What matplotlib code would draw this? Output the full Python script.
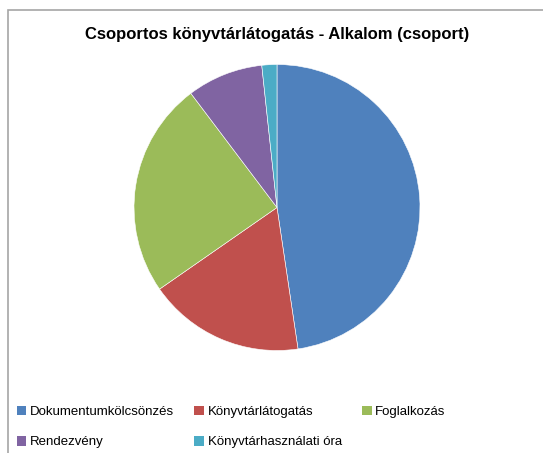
import matplotlib.pyplot as plt
from matplotlib.patches import Rectangle, Patch

# Data
categories = ['Dokumentumkölcsönzés', 'Könyvtárlátogatás', 'Foglalkozás',
              'Rendezvény', 'Könyvtárhasználati óra']
values = [47.7, 17.7, 24.4, 8.6, 1.7]
colors = ['#4F81BD', '#C0504D', '#9BBB59', '#8064A2', '#4BACC6']
title = 'Csoportos könyvtárlátogatás - Alkalom (csoport)'

W, H = 543, 453
plt.rcParams['font.family'] = ['Liberation Sans', 'DejaVu Sans']
fig = plt.figure(figsize=(W / 100, H / 100), dpi=100)

# outer chart border (cut off at right and bottom like the screenshot)
fig.patches.append(Rectangle((8 / W, -0.1), 1.2, 1 - 10 / H + 0.1,
                             transform=fig.transFigure, fill=False,
                             edgecolor='#a6a6a6', linewidth=1.2))

# pie axes: centre (277, 207.5) px, radius 143 px
cx, cy, r = 277, 207.5, 143
ax = fig.add_axes([(cx - r) / W, (H - cy - r) / H, 2 * r / W, 2 * r / H])
ax.pie(values, colors=colors, startangle=90, counterclock=False,
       wedgeprops=dict(edgecolor='white', linewidth=0.4))
ax.set_xlim(-1, 1)
ax.set_ylim(-1, 1)
ax.set_aspect('equal')

fig.text(cx / W, 1 - 35 / H, title, ha='center', va='center',
         fontsize=12, fontweight='bold')

# legend, row-wise like Excel
order = [0, 3, 1, 4, 2]
handles = [Patch(facecolor=colors[i], edgecolor='none') for i in order]
labels = [categories[i] for i in order]
fig.legend(handles, labels, ncol=3, loc='upper left',
           bbox_to_anchor=(10 / W, 1 - 399 / H), frameon=False,
           fontsize=9.5, handlelength=0.75, handleheight=0.75,
           handletextpad=0.25, columnspacing=1.55, labelspacing=1.35,
           borderpad=0)

fig.savefig('out.png', dpi=100)
